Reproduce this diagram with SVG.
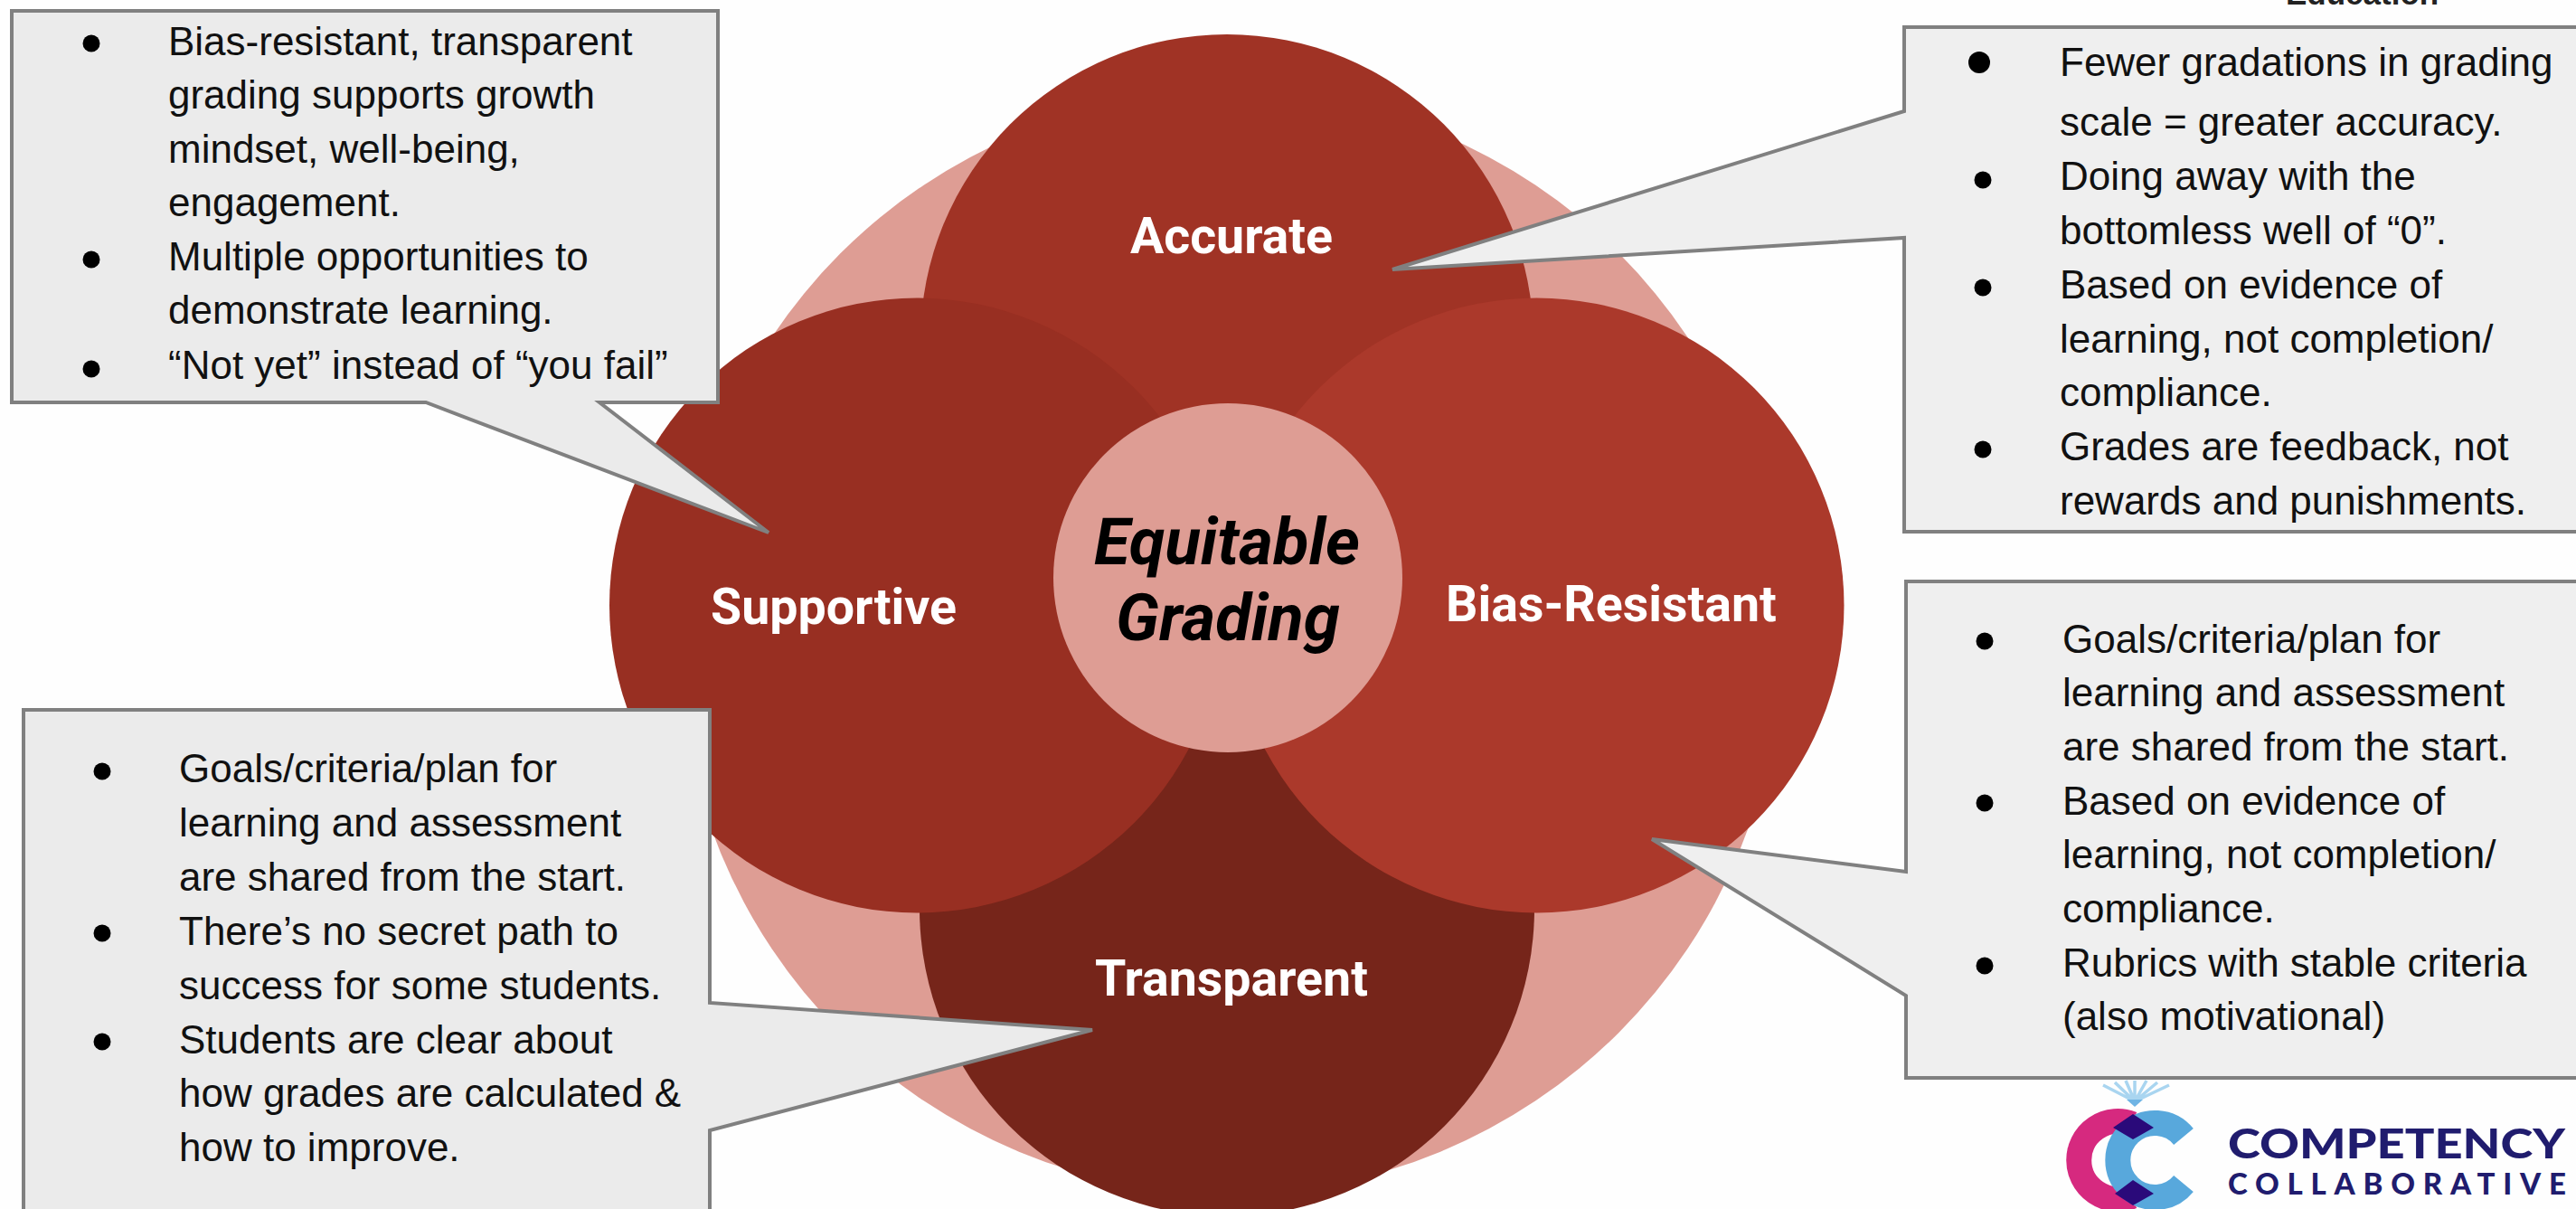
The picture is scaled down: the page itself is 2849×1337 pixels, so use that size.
<svg xmlns="http://www.w3.org/2000/svg" width="2849" height="1337" viewBox="0 0 2849 1337">
<style>
.box{stroke:#808080;stroke-width:4;stroke-linejoin:miter}
.t{font-family:"Liberation Sans",Arial,sans-serif;font-size:44px;fill:#111}
.b{fill:#000}
.lab{font-family:Roboto,"Liberation Sans",sans-serif;font-weight:700;font-size:55.500px;fill:#fff;text-anchor:middle}
.eq{font-family:Roboto,"Liberation Sans",sans-serif;font-weight:700;font-style:italic;font-size:72.500px;fill:#000;text-anchor:middle}
.ray{stroke:#a9d5f0;stroke-width:3.500;fill:none}
.logo{font-family:Lato,"Open Sans",sans-serif;font-weight:900;fill:#201c6e}
</style>
<rect width="2849" height="1337" fill="#fefefe"/>
<g id="ring"><circle cx="1360" cy="711" r="609" fill="#de9d94"/></g>
<g id="accurate"><circle cx="1357" cy="377" r="339" fill="#a03325"/><text class="lab" x="1362" y="280">Accurate</text></g>
<g id="transparent"><circle cx="1357" cy="1005" r="340" fill="#76251a"/><text class="lab" x="1362" y="1101">Transparent</text></g>
<g id="supportive"><circle cx="1014" cy="669.500" r="340" fill="#982f22"/><text class="lab" x="922" y="690">Supportive</text></g>
<g id="bias-resistant"><circle cx="1699.500" cy="669.500" r="340" fill="#ab392b"/><text class="lab" x="1782" y="687">Bias-Resistant</text></g>
<g id="center"><circle cx="1358" cy="639" r="193" fill="#de9d94"/><text class="eq" x="1357" y="624">Equitable</text><text class="eq" x="1358" y="708">Grading</text></g>
<g id="callout-supportive">
<polygon class="box" fill="#ebebeb" points="13,12 794,12 794,445 663,445 850,589 471,445 13,445"/>
<circle class="b" cx="101" cy="48" r="9.500"/><circle class="b" cx="101" cy="287" r="9.500"/><circle class="b" cx="101" cy="408" r="9.500"/>
<text class="t" x="186" y="61">Bias-resistant, transparent</text>
<text class="t" x="186" y="120">grading supports growth</text>
<text class="t" x="186" y="180">mindset, well-being,</text>
<text class="t" x="186" y="239">engagement.</text>
<text class="t" x="186" y="299">Multiple opportunities to</text>
<text class="t" x="186" y="358">demonstrate learning.</text>
<text class="t" x="186" y="419">“Not yet” instead of “you fail”</text>
</g>
<g id="callout-accurate">
<polygon class="box" fill="#efefef" points="2106,30 2860,30 2860,588 2106,588 2106,263 1540,298 2106,123"/>
<circle class="b" cx="2189" cy="69" r="12"/><circle class="b" cx="2193" cy="199" r="9.500"/><circle class="b" cx="2193" cy="318" r="9.500"/><circle class="b" cx="2193" cy="497" r="9.500"/>
<text class="t" x="2278" y="84">Fewer gradations in grading</text>
<text class="t" x="2278" y="150">scale = greater accuracy.</text>
<text class="t" x="2278" y="210">Doing away with the</text>
<text class="t" x="2278" y="270">bottomless well of “0”.</text>
<text class="t" x="2278" y="330">Based on evidence of</text>
<text class="t" x="2278" y="390">learning, not completion/</text>
<text class="t" x="2278" y="449">compliance.</text>
<text class="t" x="2278" y="509">Grades are feedback, not</text>
<text class="t" x="2278" y="569">rewards and punishments.</text>
</g>
<g id="callout-bias">
<polygon class="box" fill="#efefef" points="2108,643 2860,643 2860,1192 2108,1192 2108,1101 1827,928 2108,964"/>
<circle class="b" cx="2195" cy="709" r="9.500"/><circle class="b" cx="2195" cy="888" r="9.500"/><circle class="b" cx="2195" cy="1068" r="9.500"/>
<text class="t" x="2281" y="722">Goals/criteria/plan for</text>
<text class="t" x="2281" y="781">learning and assessment</text>
<text class="t" x="2281" y="841">are shared from the start.</text>
<text class="t" x="2281" y="901">Based on evidence of</text>
<text class="t" x="2281" y="960">learning, not completion/</text>
<text class="t" x="2281" y="1020">compliance.</text>
<text class="t" x="2281" y="1080">Rubrics with stable criteria</text>
<text class="t" x="2281" y="1139">(also motivational)</text>
</g>
<g id="callout-transparent">
<polygon class="box" fill="#ebebeb" points="26,785 785,785 785,1109 1208,1139 785,1250 785,1350 26,1350"/>
<circle class="b" cx="113" cy="853" r="9.500"/><circle class="b" cx="113" cy="1032" r="9.500"/><circle class="b" cx="113" cy="1152" r="9.500"/>
<text class="t" x="198" y="865">Goals/criteria/plan for</text>
<text class="t" x="198" y="925">learning and assessment</text>
<text class="t" x="198" y="985">are shared from the start.</text>
<text class="t" x="198" y="1045">There’s no secret path to</text>
<text class="t" x="198" y="1105">success for some students.</text>
<text class="t" x="198" y="1165">Students are clear about</text>
<text class="t" x="198" y="1224">how grades are calculated &amp;</text>
<text class="t" x="198" y="1284">how to improve.</text>
</g>
<g id="caption"><text x="2528" y="5" font-family="Liberation Sans, sans-serif" font-weight="700" font-size="35" fill="#222">Education</text></g>
<g id="logo">
<g class="ray"><path d="M2361 1218L2326 1200M2361 1218L2339 1197M2361 1218L2351 1195M2361 1218V1195M2361 1218L2374 1195M2361 1218L2386 1197M2361 1218L2399 1200"/></g>
<path d="M2352 1216H2370L2361 1224Z" fill="#6fb4e4"/>
<path d="M2358 1243A43 43 0 1 0 2358 1323" fill="none" stroke="#d6297f" stroke-width="28"/>
<path d="M2415 1257A41 41 0 1 0 2415 1309" fill="none" stroke="#58a8dc" stroke-width="28"/>
<path d="M2359 1232L2382 1247L2359 1260L2337 1247ZM2359 1305L2382 1320L2359 1333L2339 1320Z" fill="#2a0a7a"/>
<text class="logo" x="2464" y="1281" font-size="46" textLength="373" lengthAdjust="spacingAndGlyphs">COMPETENCY</text>
<text class="logo" x="2464" y="1321" font-size="33" textLength="374" font-weight="700">COLLABORATIVE</text>
</g>
</svg>
